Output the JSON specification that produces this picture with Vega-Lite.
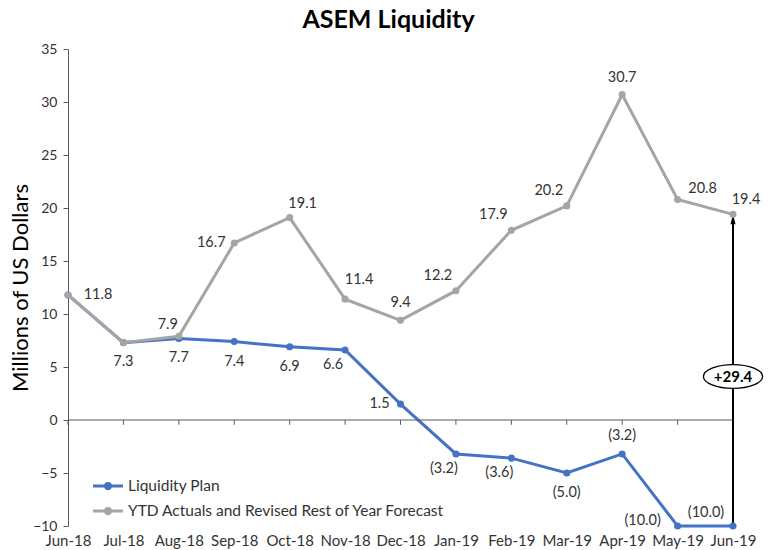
{
  "$schema": "https://vega.github.io/schema/vega-lite/v6.json",
  "width": 665,
  "height": 477,
  "autosize": {"type": "none"},
  "padding": {"left": 68, "top": 49, "right": 42, "bottom": 24},
  "background": "white",
  "title": {"text": "ASEM Liquidity", "fontSize": 25, "font": "Lato", "fontWeight": "bold", "color": "#000000", "anchor": "middle", "dx": -12, "offset": 9},
  "config": {
    "view": {"stroke": null},
    "font": "Lato",
    "text": {"font": "Lato", "fontSize": 14.5, "color": "#333333", "align": "center", "baseline": "middle"},
    "axisY": {"grid": false, "domainColor": "#595959", "tickColor": "#595959", "tickSize": 5, "labelPadding": 6, "labelFont": "Lato", "labelFontSize": 14, "labelColor": "#333333", "titleFont": "Lato", "titleFontSize": 22, "titleFontWeight": "normal", "titleColor": "#000000", "titlePadding": 0}
  },
  "datasets": {
    "main": [
      {"month": "Jun-18", "series": "Liquidity Plan", "value": 11.8},
      {"month": "Jul-18", "series": "Liquidity Plan", "value": 7.3},
      {"month": "Aug-18", "series": "Liquidity Plan", "value": 7.7},
      {"month": "Sep-18", "series": "Liquidity Plan", "value": 7.4},
      {"month": "Oct-18", "series": "Liquidity Plan", "value": 6.9},
      {"month": "Nov-18", "series": "Liquidity Plan", "value": 6.6},
      {"month": "Dec-18", "series": "Liquidity Plan", "value": 1.5},
      {"month": "Jan-19", "series": "Liquidity Plan", "value": -3.2},
      {"month": "Feb-19", "series": "Liquidity Plan", "value": -3.6},
      {"month": "Mar-19", "series": "Liquidity Plan", "value": -5.0},
      {"month": "Apr-19", "series": "Liquidity Plan", "value": -3.2},
      {"month": "May-19", "series": "Liquidity Plan", "value": -10.0},
      {"month": "Jun-19", "series": "Liquidity Plan", "value": -10.0},
      {"month": "Jun-18", "series": "YTD Actuals and Revised Rest of Year Forecast", "value": 11.8},
      {"month": "Jul-18", "series": "YTD Actuals and Revised Rest of Year Forecast", "value": 7.3},
      {"month": "Aug-18", "series": "YTD Actuals and Revised Rest of Year Forecast", "value": 7.9},
      {"month": "Sep-18", "series": "YTD Actuals and Revised Rest of Year Forecast", "value": 16.7},
      {"month": "Oct-18", "series": "YTD Actuals and Revised Rest of Year Forecast", "value": 19.1},
      {"month": "Nov-18", "series": "YTD Actuals and Revised Rest of Year Forecast", "value": 11.4},
      {"month": "Dec-18", "series": "YTD Actuals and Revised Rest of Year Forecast", "value": 9.4},
      {"month": "Jan-19", "series": "YTD Actuals and Revised Rest of Year Forecast", "value": 12.2},
      {"month": "Feb-19", "series": "YTD Actuals and Revised Rest of Year Forecast", "value": 17.9},
      {"month": "Mar-19", "series": "YTD Actuals and Revised Rest of Year Forecast", "value": 20.2},
      {"month": "Apr-19", "series": "YTD Actuals and Revised Rest of Year Forecast", "value": 30.7},
      {"month": "May-19", "series": "YTD Actuals and Revised Rest of Year Forecast", "value": 20.8},
      {"month": "Jun-19", "series": "YTD Actuals and Revised Rest of Year Forecast", "value": 19.4}
    ],
    "annotation": [
      {"month": "Jun-19", "start": -10.0, "end": 19.4, "label": "+29.4"}
    ]
  },
  "data": {"name": "main"},
  "encoding": {
    "x": {
      "field": "month", "type": "ordinal", "sort": null,
      "scale": {"type": "point", "padding": 0},
      "axis": {"title": null, "domain": false, "ticks": false, "labelAngle": 0, "labelPadding": 7, "labelFont": "Lato", "labelFontSize": 15, "labelColor": "#333333"}
    }
  },
  "layer": [
    {
      "transform": [{"filter": {"field": "series", "equal": "Liquidity Plan"}}],
      "mark": {"type": "line", "strokeWidth": 3},
      "encoding": {
        "y": {
          "field": "value", "type": "quantitative",
          "scale": {"domain": [-10, 35], "nice": false, "zero": false},
          "axis": {"title": "Millions of US Dollars", "values": [-10, -5, 0, 5, 10, 15, 20, 25, 30, 35]}
        },
        "color": {
          "field": "series", "type": "nominal",
          "scale": {"domain": ["Liquidity Plan", "YTD Actuals and Revised Rest of Year Forecast"], "range": ["#4472C4", "#A5A5A5"]},
          "legend": {
            "title": null, "orient": "none", "legendX": 31, "legendY": 428, "padding": 0,
            "labelFont": "Lato", "labelFontSize": 15.5, "labelColor": "#333333", "labelOffset": 11, "labelLimit": 0,
            "symbolType": "M-2,0L2,0M-0.35,0A0.35,0.35 0 1,0 0.35,0A0.35,0.35 0 1,0 -0.35,0Z",
            "symbolSize": 225, "symbolStrokeWidth": 3, "rowPadding": 7,
            "encode": {"symbols": {"update": {"fill": {"scale": "color", "field": "value"}, "stroke": {"scale": "color", "field": "value"}, "strokeWidth": {"value": 3}, "opacity": {"value": 1}}}}
          }
        }
      }
    },
    {
      "data": {"values": [{}]},
      "mark": {"type": "rule", "color": "#595959", "strokeWidth": 1},
      "encoding": {"x": null, "y": {"datum": 0}}
    },
    {
      "transform": [{"filter": {"field": "series", "equal": "Liquidity Plan"}}],
      "mark": {"type": "rule", "color": "#595959", "strokeWidth": 1},
      "encoding": {"y": {"datum": 0}, "y2": {"datum": -0.45}}
    },
    {
      "data": {"name": "annotation"},
      "mark": {"type": "rule", "color": "#000000", "strokeWidth": 2},
      "encoding": {"y": {"field": "start", "type": "quantitative"}, "y2": {"field": "end"}}
    },
    {
      "data": {"name": "annotation"},
      "mark": {"type": "point", "shape": "M0,0L-0.5,2L0.5,2Z", "filled": true, "color": "#000000", "size": 100, "opacity": 1},
      "encoding": {"y": {"field": "end", "type": "quantitative"}}
    },
    {
      "data": {"name": "annotation"},
      "mark": {"type": "point", "shape": "M-1,0A1,0.4 0 1,0 1,0A1,0.4 0 1,0 -1,0Z", "filled": true, "fill": "#ffffff", "stroke": "#000000", "strokeWidth": 1.3, "size": 3500, "opacity": 1},
      "encoding": {"y": {"datum": 4.1}}
    },
    {
      "data": {"name": "annotation"},
      "mark": {"type": "text", "fontWeight": "bold", "fontSize": 15, "color": "#000000"},
      "encoding": {"y": {"datum": 4.1}, "text": {"field": "label", "type": "nominal"}}
    },
    {
      "transform": [{"filter": {"field": "series", "equal": "Liquidity Plan"}}],
      "mark": {"type": "point", "filled": true, "size": 50, "opacity": 1},
      "encoding": {"y": {"field": "value", "type": "quantitative"}, "color": {"field": "series", "type": "nominal"}}
    },
    {
      "transform": [{"filter": {"field": "series", "equal": "YTD Actuals and Revised Rest of Year Forecast"}}],
      "mark": {"type": "line", "strokeWidth": 3},
      "encoding": {"y": {"field": "value", "type": "quantitative"}, "color": {"field": "series", "type": "nominal"}}
    },
    {
      "transform": [{"filter": {"field": "series", "equal": "YTD Actuals and Revised Rest of Year Forecast"}}],
      "mark": {"type": "point", "filled": true, "size": 50, "opacity": 1},
      "encoding": {"y": {"field": "value", "type": "quantitative"}, "color": {"field": "series", "type": "nominal"}}
    },
    {
      "transform": [{"filter": {"and": [{"field": "series", "equal": "YTD Actuals and Revised Rest of Year Forecast"}, {"field": "month", "oneOf": ["Jun-18"]}]}}],
      "mark": {"type": "text", "dx": 30, "dy": 0},
      "encoding": {"y": {"field": "value", "type": "quantitative"}, "text": {"field": "value", "type": "quantitative", "format": "(.1f"}}
    },
    {
      "transform": [{"filter": {"and": [{"field": "series", "equal": "YTD Actuals and Revised Rest of Year Forecast"}, {"field": "month", "oneOf": ["Jul-18"]}]}}],
      "mark": {"type": "text", "dx": 0, "dy": 19},
      "encoding": {"y": {"field": "value", "type": "quantitative"}, "text": {"field": "value", "type": "quantitative", "format": "(.1f"}}
    },
    {
      "transform": [{"filter": {"and": [{"field": "series", "equal": "YTD Actuals and Revised Rest of Year Forecast"}, {"field": "month", "oneOf": ["Aug-18"]}]}}],
      "mark": {"type": "text", "dx": -11, "dy": -11},
      "encoding": {"y": {"field": "value", "type": "quantitative"}, "text": {"field": "value", "type": "quantitative", "format": "(.1f"}}
    },
    {
      "transform": [{"filter": {"and": [{"field": "series", "equal": "YTD Actuals and Revised Rest of Year Forecast"}, {"field": "month", "oneOf": ["Sep-18"]}]}}],
      "mark": {"type": "text", "dx": -23, "dy": 0},
      "encoding": {"y": {"field": "value", "type": "quantitative"}, "text": {"field": "value", "type": "quantitative", "format": "(.1f"}}
    },
    {
      "transform": [{"filter": {"and": [{"field": "series", "equal": "YTD Actuals and Revised Rest of Year Forecast"}, {"field": "month", "oneOf": ["Oct-18", "Jun-19"]}]}}],
      "mark": {"type": "text", "dx": 13, "dy": -14},
      "encoding": {"y": {"field": "value", "type": "quantitative"}, "text": {"field": "value", "type": "quantitative", "format": "(.1f"}}
    },
    {
      "transform": [{"filter": {"and": [{"field": "series", "equal": "YTD Actuals and Revised Rest of Year Forecast"}, {"field": "month", "oneOf": ["Nov-18"]}]}}],
      "mark": {"type": "text", "dx": 14, "dy": -19},
      "encoding": {"y": {"field": "value", "type": "quantitative"}, "text": {"field": "value", "type": "quantitative", "format": "(.1f"}}
    },
    {
      "transform": [{"filter": {"and": [{"field": "series", "equal": "YTD Actuals and Revised Rest of Year Forecast"}, {"field": "month", "oneOf": ["May-19"]}]}}],
      "mark": {"type": "text", "dx": 25, "dy": -11},
      "encoding": {"y": {"field": "value", "type": "quantitative"}, "text": {"field": "value", "type": "quantitative", "format": "(.1f"}}
    },
    {
      "transform": [{"filter": {"and": [{"field": "series", "equal": "YTD Actuals and Revised Rest of Year Forecast"}, {"field": "month", "oneOf": ["Dec-18", "Apr-19"]}]}}],
      "mark": {"type": "text", "dx": 0, "dy": -17},
      "encoding": {"y": {"field": "value", "type": "quantitative"}, "text": {"field": "value", "type": "quantitative", "format": "(.1f"}}
    },
    {
      "transform": [{"filter": {"and": [{"field": "series", "equal": "YTD Actuals and Revised Rest of Year Forecast"}, {"field": "month", "oneOf": ["Jan-19", "Feb-19", "Mar-19"]}]}}],
      "mark": {"type": "text", "dx": -18, "dy": -15},
      "encoding": {"y": {"field": "value", "type": "quantitative"}, "text": {"field": "value", "type": "quantitative", "format": "(.1f"}}
    },
    {
      "transform": [{"filter": {"and": [{"field": "series", "equal": "Liquidity Plan"}, {"field": "month", "oneOf": ["Aug-18", "Sep-18", "Oct-18", "Mar-19"]}]}}],
      "mark": {"type": "text", "dx": 0, "dy": 20},
      "encoding": {"y": {"field": "value", "type": "quantitative"}, "text": {"field": "value", "type": "quantitative", "format": "(.1f"}}
    },
    {
      "transform": [{"filter": {"and": [{"field": "series", "equal": "Liquidity Plan"}, {"field": "month", "oneOf": ["Nov-18", "Jan-19", "Feb-19"]}]}}],
      "mark": {"type": "text", "dx": -12, "dy": 15},
      "encoding": {"y": {"field": "value", "type": "quantitative"}, "text": {"field": "value", "type": "quantitative", "format": "(.1f"}}
    },
    {
      "transform": [{"filter": {"and": [{"field": "series", "equal": "Liquidity Plan"}, {"field": "month", "oneOf": ["Dec-18"]}]}}],
      "mark": {"type": "text", "dx": -21, "dy": 0},
      "encoding": {"y": {"field": "value", "type": "quantitative"}, "text": {"field": "value", "type": "quantitative", "format": "(.1f"}}
    },
    {
      "transform": [{"filter": {"and": [{"field": "series", "equal": "Liquidity Plan"}, {"field": "month", "oneOf": ["Apr-19"]}]}}],
      "mark": {"type": "text", "dx": 0, "dy": -18},
      "encoding": {"y": {"field": "value", "type": "quantitative"}, "text": {"field": "value", "type": "quantitative", "format": "(.1f"}}
    },
    {
      "transform": [{"filter": {"and": [{"field": "series", "equal": "Liquidity Plan"}, {"field": "month", "oneOf": ["May-19"]}]}}],
      "mark": {"type": "text", "dx": -35, "dy": -5},
      "encoding": {"y": {"field": "value", "type": "quantitative"}, "text": {"field": "value", "type": "quantitative", "format": "(.1f"}}
    },
    {
      "transform": [{"filter": {"and": [{"field": "series", "equal": "Liquidity Plan"}, {"field": "month", "oneOf": ["Jun-19"]}]}}],
      "mark": {"type": "text", "dx": -27, "dy": -13},
      "encoding": {"y": {"field": "value", "type": "quantitative"}, "text": {"field": "value", "type": "quantitative", "format": "(.1f"}}
    }
  ]
}
